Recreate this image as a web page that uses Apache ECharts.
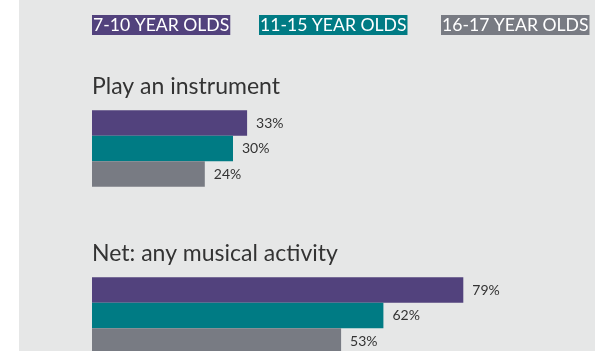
<!DOCTYPE html>
<html>
<head>
<meta charset="utf-8">
<script src="https://cdn.jsdelivr.net/npm/echarts@6/dist/echarts.min.js"></script>
<style>
  html, body { margin: 0; padding: 0; background: #ffffff; }
  #chart {
    width: 595px; height: 351px;
    background: linear-gradient(to right, #ffffff 19px, #e6e7e7 19px);
  }
</style>
</head>
<body>
<div id="chart"></div>
<script>
// Musical activities by age group (% of children)
const activities = ['Play an instrument', 'Net: any musical activity'];
const ageGroups = ['7-10 YEAR OLDS', '11-15 YEAR OLDS', '16-17 YEAR OLDS'];
const age7to10 = [33, 79];
const age11to15 = [30, 62];
const age16to17 = [24, 53];

const seriesValues = [age7to10, age11to15, age16to17];
const colors = ['#52427d', '#007b84', '#787b83'];
const fontFamily = 'Lato, "Noto Sans", sans-serif';

const chart = echarts.init(document.getElementById('chart'), null, { renderer: 'canvas' });

// one legend per age group so each tag sits on its own spot
const legendLefts = [87, 254, 436];
const legends = ageGroups.map((name, i) => ({
  left: legendLefts[i],
  top: 15,
  padding: 0,
  icon: 'none',
  itemWidth: 0,
  itemHeight: 20,
  selectedMode: false,
  data: [{
    name: name,
    textStyle: {
      color: '#ffffff',
      backgroundColor: colors[i],
      fontSize: 17.6,
      lineHeight: 20,
      padding: [0, 1, 0, 1],
      fontFamily: fontFamily
    }
  }]
}));

chart.setOption({
  animation: false,
  backgroundColor: 'transparent',
  legend: legends,
  // the plot runs past the bottom edge, so the last bar group is cut off
  grid: {
    left: 92, width: 470, top: 65, height: 334,
    containLabel: false,
    outerBoundsMode: 'none'
  },
  xAxis: {
    type: 'value',
    min: 0,
    max: 100,
    show: false
  },
  yAxis: {
    type: 'category',
    inverse: true,
    data: activities,
    axisLine: { show: false },
    axisTick: { show: false },
    splitLine: { show: false },
    axisLabel: {
      inside: true,
      margin: 0,
      align: 'left',
      verticalAlign: 'bottom',
      padding: [0, 0, 50, 0],
      color: '#333333',
      fontSize: 23,
      fontFamily: fontFamily
    }
  },
  series: ageGroups.map((name, i) => ({
    name: name,
    type: 'bar',
    data: seriesValues[i],
    barWidth: 25.5,
    barGap: '0%',
    itemStyle: { color: colors[i] },
    label: {
      show: true,
      position: 'right',
      distance: 9,
      formatter: '{c}%',
      color: '#333333',
      fontSize: 14,
      fontFamily: fontFamily
    }
  }))
});
</script>
</body>
</html>
